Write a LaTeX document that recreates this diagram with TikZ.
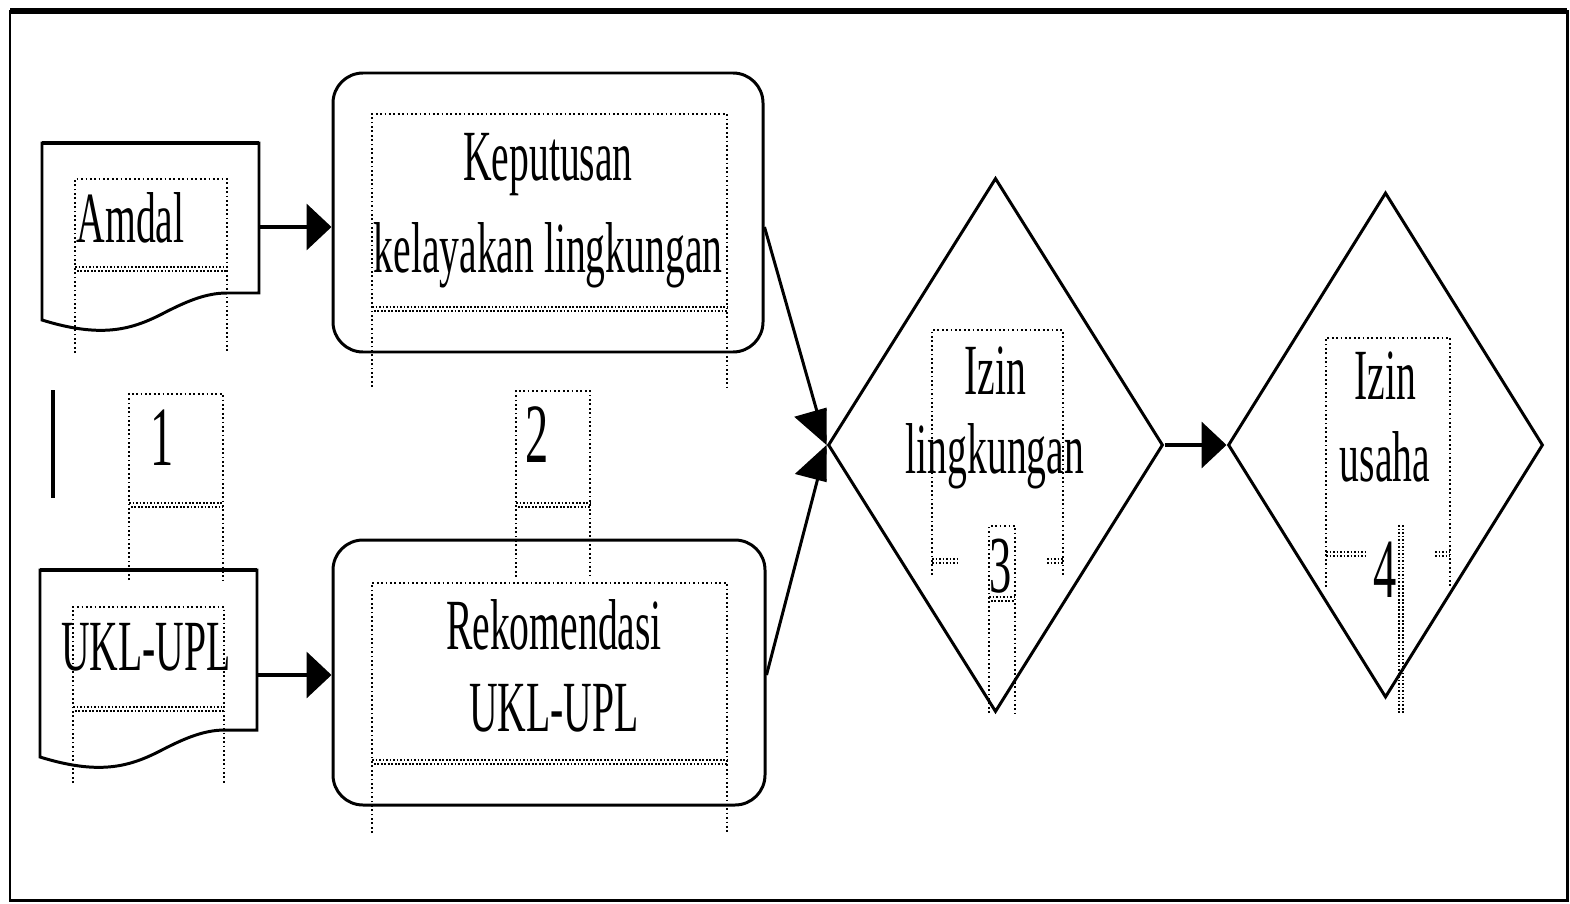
\documentclass[tikz,border=0pt]{standalone}
\usepackage{fontspec}
\setmainfont{Liberation Serif}
\usepackage{graphicx}
\usetikzlibrary{positioning,shapes.geometric,arrows.meta}
\newcommand{\sq}[1]{\scalebox{0.55}[1]{#1}}

\begin{document}
\begin{tikzpicture}[x=0.1mm,y=-0.1mm,
      outline/.style={draw,line width=0.85pt},
      proc/.style={outline,rounded corners=3mm,fill=white},
      decide/.style={outline,diamond,inner sep=0pt,fill=white},
      lbl/.style={font=\fontsize{20.5}{23.5}\selectfont,inner sep=0pt,align=center},
      num/.style={font=\fontsize{24}{28}\selectfont,inner sep=0pt},
      flow/.style={line width=1.1pt,-{Triangle[length=2.5mm,width=4.6mm]}},
      mergeflow/.style={line width=0.85pt,-{Triangle[length=3.6mm,width=4.6mm]}},
      tline/.style={line width=0.35pt,dash pattern=on 0.5pt off 0.75pt},
      tfoot/.style={line width=0.5pt,dash pattern=on 0.5pt off 0.5pt}]
    \useasboundingbox (0,0) rectangle (1570,903);
    % frame
    \draw[line width=0.85pt] (10,11) rectangle (1567,900);
    \draw[line width=1.5pt] (10,11) -- (1567,11);
    % documents
    \draw[outline] (42,143) -- (259,143) -- (259,293) -- (227,293)
      .. controls (205,293) and (185,302) .. (160,315)
      .. controls (130,330) and (100,338) .. (42,320) -- cycle;
    \draw[line width=1.4pt] (42,143) -- (259,143);
    \draw[outline] (40,570) -- (257,570) -- (257,730) -- (225,730)
      .. controls (203,730) and (183,739) .. (158,752)
      .. controls (128,767) and (98,775) .. (40,757) -- cycle;
    \draw[line width=1.4pt] (40,570) -- (257,570);
    \coordinate (amdalout) at (259,227);
    \coordinate (uklout) at (257,675);
    \draw[line width=1.2pt] (53,390) -- (53,498);
    % process boxes and decisions
    \node[proc,minimum width=43mm,minimum height=27.9mm] (kep) at (548,212.5) {};
    \node[proc,minimum width=43.2mm,minimum height=26.5mm] (rek) at (549,672.5) {};
    \node[decide,minimum width=33.5mm,minimum height=53.4mm] (izl) at (995.5,445) {};
    \node[decide,minimum width=31.5mm,minimum height=50.5mm] (izu) at (1385.5,445) {};
    % connectors
    \draw[flow] (amdalout) -- (amdalout -| kep.west);
    \draw[flow] (uklout) -- (uklout -| rek.west);
    \draw[flow] (izl.east) -- (izu.west);
    \begin{scope}
      \clip (0,0) rectangle (izl.west |- 0,903);
      \draw[mergeflow] (kep.east |- amdalout) -- (izl.west);
      \draw[mergeflow] (rek.east |- uklout) -- (izl.west);
    \end{scope}
    % labels
    \node[lbl,anchor=base west] (amdaltxt) at (76,242) {\sq{Amdal}};
    \node[lbl,anchor=base] (ukltxt) at (146,670) {\sq{UKL-UPL}};
    \node[lbl] (keptxt) at (548,210.5) {\sq{Keputusan}\\[2.8pt]\sq{kelayakan lingkungan}};
    \node[lbl] (rektxt) at (554,666) {\sq{Rekomendasi}\\\sq{UKL-UPL}};
    \node[lbl] (izltxt) at (995,418) {\sq{Izin}\\[-1pt]\sq{lingkungan}};
    \node[lbl] (izutxt) at (1385,417) {\sq{Izin}\\\sq{usaha}};
    \node[num,anchor=base] (n1) at (162,465) {\sq{1}};
    \node[num,anchor=base] (n2) at (537,462) {\sq{2}};
    \node[num,anchor=base,font=\fontsize{23}{27}\selectfont] (n3) at (1001,592) {\sq{3}};
    \node[num,anchor=base] (n4) at (1385,597) {\sq{4}};
    % text box outlines
    \foreach \l/\t/\r/\b/\e in {75/179/227/267/353, 73/607/224/707/783,
        372/114/727/307/387, 372/583/727/760/833, 129/394/223/503/580,
        516/391/590/503/577, 989/526/1015/597/713}{
      \draw[tline] (\l,\e) -- (\l,\t) -- (\r,\t) -- (\r,\e);
      \draw[tfoot] (\l,\b) -- (\r,\b);
      \draw[tfoot,dash phase=0.5pt] (\l,\b+4) -- (\r,\b+4);
    }
    \draw[tline] (932,575) -- (932,330) -- (1063,330) -- (1063,575);
    \draw[tline] (1326,587) -- (1326,338) -- (1450,338) -- (1450,587);
    \foreach \y in {0,4}{
      \draw[tfoot] (932,559+\y) -- (957,559+\y);
      \draw[tfoot] (1047,559+\y) -- (1063,559+\y);
      \draw[tfoot] (1326,552+\y) -- (1366,552+\y);
      \draw[tfoot] (1435,552+\y) -- (1450,552+\y);
      \draw[tfoot] (1399+\y,525) -- (1399+\y,713);
    }
  \end{tikzpicture}
\end{document}
